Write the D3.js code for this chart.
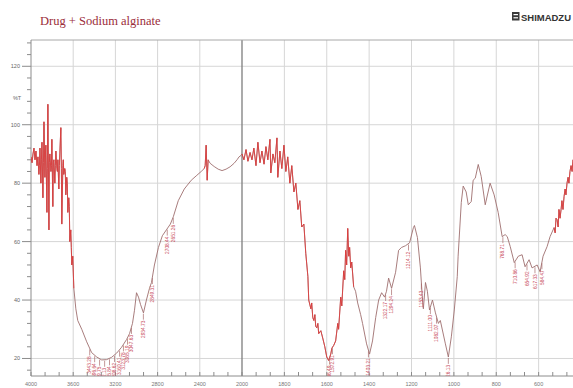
<!DOCTYPE html>
<html>
<head>
<meta charset="utf-8">
<script src="https://cdn.jsdelivr.net/npm/d3@7"></script>
<style>
  body { margin: 0; background: #fff; }
  svg { display: block; }
</style>
</head>
<body>
<div id="chart"></div>
<script>
// ---- data ----
const title = "Drug + Sodium alginate";
const brand = "SHIMADZU";
const yLabel = "%T";

const xTicks = [4000, 3600, 3200, 2800, 2400, 2000, 1800, 1600, 1400, 1200, 1000, 800, 600, 400];
const yTicks = [20, 40, 60, 80, 100, 120];

// wavenumber (1/cm), descending
const wavenumber = [
  4000, 3990, 3981, 3972, 3962, 3953, 3943, 3934, 3925, 3920, 3915, 3906, 3901, 3896, 3887, 3882, 3877, 3868,
  3863, 3859, 3849, 3845, 3840, 3830, 3826, 3821, 3811, 3806, 3802, 3793, 3788, 3783, 3774, 3769, 3764, 3755,
  3750, 3745, 3736, 3731, 3727, 3717, 3712, 3708, 3698, 3694, 3689, 3680, 3675, 3670, 3661, 3656, 3651, 3642,
  3637, 3632, 3623, 3618, 3613, 3604, 3594,
  3575, 3557, 3519, 3472, 3425, 3377, 3330, 3283, 3236, 3189, 3142, 3094, 3066, 3038, 3019, 3000, 2981, 2962,
  2934, 2906, 2877, 2858, 2830, 2792, 2755, 2717, 2679, 2651, 2604, 2547, 2481, 2434, 2387, 2358, 2349, 2340,
  2330, 2321, 2302, 2264, 2226, 2189, 2151, 2113, 2075, 2047, 2028, 2009,
  2000, 1991, 1981, 1972, 1962, 1953, 1944, 1934, 1925, 1915, 1906, 1896, 1887, 1878, 1868, 1864, 1854, 1845,
  1835, 1831, 1821, 1812, 1802, 1793, 1784, 1774, 1765, 1755, 1746, 1736, 1727, 1718, 1708, 1699, 1689, 1685,
  1675, 1671, 1666, 1661, 1656, 1652, 1647, 1642, 1638, 1628, 1619, 1609, 1600, 1591, 1581, 1576, 1567, 1558,
  1548, 1544, 1534, 1529, 1520, 1515, 1511, 1506, 1501, 1496, 1492, 1487, 1482, 1473, 1464, 1454, 1440, 1431,
  1412, 1398, 1384, 1369, 1355, 1341, 1327, 1318, 1308, 1294, 1275, 1261, 1247, 1228, 1209, 1191, 1186, 1172,
  1158, 1148, 1144, 1134, 1125, 1115, 1101, 1087, 1073, 1064, 1040, 1026, 1012, 998, 984, 980, 965, 956,
  942, 932, 918, 909, 899, 885, 871, 852, 829, 810, 791, 772, 758, 748, 734, 715, 696, 678,
  664, 645, 631, 607, 593, 579, 560, 546, 527, 522, 518, 513, 508, 504, 499, 494, 490, 485,
  480, 475, 471, 466, 461, 457, 452, 447, 442, 438, 419
];

// transmittance (%T), same order
const transmittance = [
  89, 87, 90, 92, 88, 91, 86, 89, 83, 86, 92, 80, 88, 94, 75, 87, 101, 82,
  90, 93, 70, 85, 107, 64, 87, 90, 84, 86, 95, 72, 87, 88, 80, 86, 91, 85,
  84, 88, 78, 86, 90, 99, 85, 66, 86, 88, 83, 85, 84, 76, 82, 80, 70, 75,
  72, 60, 64, 58, 52, 55, 44,
  37, 33, 30, 25.7, 22, 20.5, 19.5, 19.6, 20.4, 21.8, 23.8, 26.5, 28.5, 32, 36.5, 42.5, 41, 38.5,
  35.6, 40, 44, 46, 52, 58, 62, 64, 66, 68.5, 74, 78, 81, 82.5, 84, 85, 86, 93,
  81, 88, 86.8, 85.7, 84.8, 84.3, 84.8, 85.6, 86.8, 88, 89, 89.5,
  90, 88, 91.5, 87.5, 90.5, 88, 92, 86, 94, 87, 91, 86.5, 92.5, 88, 95, 83.5, 90, 87,
  95.5, 82, 91, 85, 93, 84, 89, 80, 86, 77, 80, 71, 74, 65, 66, 56, 48, 40,
  37, 39, 34, 33, 35, 31, 30.5, 32, 28.5, 29.5, 27, 24, 20.5, 19.3, 21.5, 23.5, 24.5, 26,
  32, 30, 41, 38, 50, 47, 57, 52, 64.5, 55, 58, 51, 53, 44.5, 43, 39, 35, 32,
  25, 21.5, 26, 34, 40, 42.5, 41, 43, 47.5, 44, 49.5, 57, 58, 58.6, 59.6, 64.8, 65.5, 61.4,
  51, 40, 37, 46, 43, 36.6, 40, 35.6, 32, 33, 25, 20.5, 27.4, 36.6, 48, 55, 73.4, 79,
  77, 72.6, 73.7, 81, 81.7, 86.4, 82.3, 72.6, 80, 76, 70, 61.7, 62.4, 61.7, 58.3, 52.8, 55, 55.5,
  51.4, 53.8, 51, 52, 49.7, 55, 58.3, 61.7, 64.8, 63, 68, 67.5, 65, 71, 68, 71, 74, 71,
  75.4, 78, 76, 80, 82, 80, 84, 86, 84, 88, 89
];

// wavenumber ranges drawn as the dense red noise
const noiseBands = [[4000, 3590], [2362, 2318], [2005, 1470], [530, 400]];

// peak pick labels
const peakLabels = [
  "3443.28", "3396.64", "3349.75", "3302.13", "3255.84", "3208.62", "3160.41", "3123.78", "3085.19", "3047.63",
  "2934.73", "2849.31", "2708.44", "2651.26",
  "1586.49", "1572.91", "1403.21", "1322.17", "1294.24", "1214.12", "1153.43", "1111.00", "1082.07", "1026.13",
  "768.71", "710.86", "654.92", "617.33", "584.47"
];

// ---- drawing ----
const W = 573, H = 388;
const plot = { left: 31, right: 581, top: 40, bottom: 376 };

const x = d3.scaleLinear().domain([4000, 2000, 400]).range([plot.left, 242, plot.right]);
const y = d3.scaleLinear().domain([14, 129]).range([plot.bottom, plot.top]);

const svg = d3.select("#chart").append("svg")
  .attr("width", W).attr("height", H)
  .style("font-family", "'Liberation Sans', Arial, sans-serif");

svg.append("defs").append("clipPath").attr("id", "plotClip")
  .append("rect")
  .attr("x", plot.left).attr("y", plot.top - 2)
  .attr("width", plot.right - plot.left).attr("height", plot.bottom - plot.top + 2);

// title + brand
svg.append("text")
  .attr("x", 40).attr("y", 25)
  .attr("font-family", "'Liberation Serif', 'Times New Roman', serif")
  .attr("font-size", 12.5)
  .attr("fill", "#9b2d3a")
  .text(title);

const logo = svg.append("g").attr("transform", "translate(512,12)");
logo.append("rect").attr("width", 7.5).attr("height", 8.5).attr("fill", "#3a3a3a");
logo.append("rect").attr("x", 1.5).attr("y", 2).attr("width", 4.5).attr("height", 1.2).attr("fill", "#fff");
logo.append("rect").attr("x", 1.5).attr("y", 5.2).attr("width", 4.5).attr("height", 1.2).attr("fill", "#fff");
logo.append("text").attr("x", 9).attr("y", 8.5)
  .attr("font-size", 8.8).attr("font-weight", "bold").attr("fill", "#333")
  .attr("textLength", 50).attr("lengthAdjust", "spacingAndGlyphs")
  .text(brand);

// grid
const grid = svg.append("g").attr("class", "grid");
grid.selectAll("line.h")
  .data(yTicks)
  .join("line")
  .attr("class", "h")
  .attr("x1", plot.left).attr("x2", W)
  .attr("y1", d => y(d)).attr("y2", d => y(d))
  .style("stroke", "#d6d6d6").style("stroke-width", 1);

grid.selectAll("line.v")
  .data(xTicks.slice(1))
  .join("line")
  .attr("class", "v")
  .attr("x1", d => x(d)).attr("x2", d => x(d))
  .attr("y1", plot.top).attr("y2", plot.bottom)
  .style("stroke", d => d === 2000 ? "#7d7d7d" : "#d6d6d6")
  .style("stroke-width", d => d === 2000 ? 1.3 : 1);

// frame
svg.append("line")
  .attr("x1", plot.left).attr("x2", W).attr("y1", plot.top).attr("y2", plot.top)
  .style("stroke", "#a8a8a8");
svg.append("line")
  .attr("x1", plot.left).attr("x2", plot.left).attr("y1", plot.top).attr("y2", plot.bottom)
  .style("stroke", "#8c8c8c");
svg.append("line")
  .attr("x1", plot.left).attr("x2", W).attr("y1", plot.bottom).attr("y2", plot.bottom)
  .style("stroke", "#8c8c8c");

// y axis ticks
const yMinor = d3.range(16, 129, 4).filter(v => v % 20 !== 0);
svg.append("g").selectAll("line")
  .data(yMinor)
  .join("line")
  .attr("x1", plot.left - 4).attr("x2", plot.left)
  .attr("y1", d => y(d)).attr("y2", d => y(d))
  .style("stroke", "#8c8c8c");
svg.append("g").selectAll("line")
  .data(yTicks)
  .join("line")
  .attr("x1", plot.left - 9).attr("x2", plot.left)
  .attr("y1", d => y(d)).attr("y2", d => y(d))
  .style("stroke", "#8c8c8c");
svg.append("g").selectAll("text")
  .data(yTicks)
  .join("text")
  .attr("x", plot.left - 11).attr("y", d => y(d) + 2)
  .attr("text-anchor", "end")
  .attr("font-size", 5.5).attr("fill", "#666")
  .text(d => d);
svg.append("text")
  .attr("x", plot.left - 14).attr("y", y(109) + 2)
  .attr("text-anchor", "middle")
  .attr("font-size", 5.5).attr("fill", "#666")
  .text(yLabel);

// x axis ticks
const xMinor = [];
for (let i = 0; i < xTicks.length - 1; i++) {
  const a = xTicks[i], b = xTicks[i + 1];
  for (let k = 1; k < 3; k++) xMinor.push(a + (b - a) * k / 3);
}
svg.append("g").selectAll("line")
  .data(xTicks.concat(xMinor))
  .join("line")
  .attr("x1", d => x(d)).attr("x2", d => x(d))
  .attr("y1", plot.bottom - 4).attr("y2", plot.bottom)
  .style("stroke", "#8c8c8c");
svg.append("g").selectAll("text")
  .data(xTicks.filter(d => x(d) < W - 8))
  .join("text")
  .attr("x", d => x(d)).attr("y", 386)
  .attr("text-anchor", "middle")
  .attr("font-size", 5.5).attr("fill", "#777")
  .text(d => d);

// spectrum
const pts = wavenumber.map((w, i) => [w, transmittance[i]]);
const line = d3.line()
  .x(d => x(d[0]))
  .y(d => y(d[1]))
  .curve(d3.curveLinear);

const body = svg.append("g").attr("clip-path", "url(#plotClip)");

body.append("path")
  .datum(pts)
  .attr("d", line)
  .style("fill", "none")
  .style("stroke", "#9e6e6e")
  .style("stroke-width", 0.9);

body.selectAll("path.noise")
  .data(noiseBands.map(b => pts.filter(p => p[0] <= b[0] && p[0] >= b[1])))
  .join("path")
  .attr("class", "noise")
  .attr("d", line)
  .style("fill", "none")
  .style("stroke", "#e23838")
  .style("stroke-width", 1)
  .style("opacity", 0.8);

// peak labels
function tAt(w) {
  for (let i = 0; i < pts.length - 1; i++) {
    const a = pts[i], b = pts[i + 1];
    if (w <= a[0] && w >= b[0]) return a[1] + (b[1] - a[1]) * (a[0] - w) / (a[0] - b[0]);
  }
  return pts[pts.length - 1][1];
}

const peaks = body.append("g").attr("class", "peaks")
  .selectAll("g")
  .data(peakLabels)
  .join("g")
  .attr("transform", d => `translate(${x(+d)},${y(tAt(+d))})`);

peaks.append("line")
  .attr("x1", 0).attr("x2", 0)
  .attr("y1", 1).attr("y2", 7)
  .style("stroke", "#a86a6a")
  .style("stroke-width", 0.7);

peaks.append("text")
  .attr("transform", "translate(1.6,8) rotate(-90)")
  .attr("text-anchor", "end")
  .attr("font-size", 4.8)
  .attr("fill", "#c84a58")
  .text(d => d);
</script>
</body>
</html>
